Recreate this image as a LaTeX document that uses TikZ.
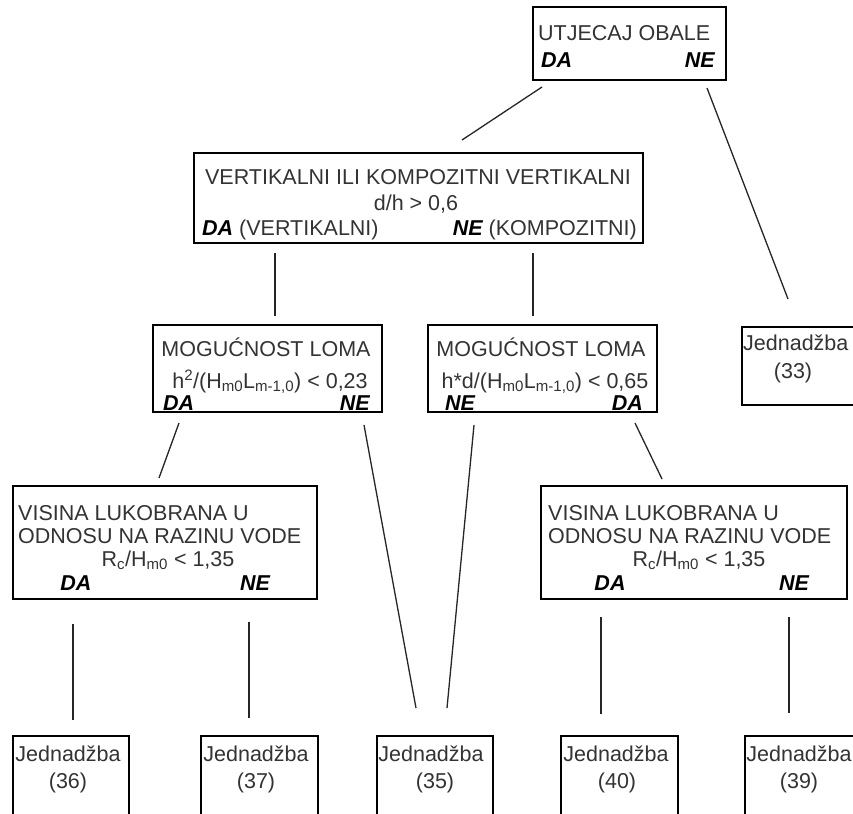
\documentclass[tikz,border=0pt]{standalone}
\usepackage{fontspec}
\setmainfont{Liberation Sans}
\newcommand\fsz{\fontsize{21.5}{25}\selectfont}
\tikzset{
 box/.style={draw=black, line width=1.5pt, inner sep=0pt, fill=none},
 txt/.style={font=\fsz, text=black!80, inner sep=0pt, anchor=base},
 lbl/.style={font=\fsz\bfseries\itshape, text=black, inner sep=0pt, anchor=base},
 conn/.style={line width=1.3pt, draw=black!85},
}
\newcommand\bi[1]{{\bfseries\itshape\color{black}#1}}
\begin{document}
\begin{tikzpicture}[x=1pt,y=-1pt]
\clip (0,0) rectangle (853,813);
\fill[white] (0,0) rectangle (853,813);
% boxes
\node[box, minimum width=193pt, minimum height=73pt] (top) at (629.5,43.5) {};
\node[box, minimum width=449pt, minimum height=90pt] (vert) at (418.5,198) {};
\node[box, minimum width=229pt, minimum height=87pt] (mogL) at (267.5,368.5) {};
\node[box, minimum width=229pt, minimum height=87pt] (mogR) at (542.5,368.5) {};
\node[box, minimum width=120pt, minimum height=78pt] (eq33) at (802,366) {};
\node[box, minimum width=304pt, minimum height=113pt] (visL) at (165,542.5) {};
\node[box, minimum width=306pt, minimum height=113pt] (visR) at (694,542.5) {};
\node[box, minimum width=116pt, minimum height=90pt] (eq36) at (71,781) {};
\node[box, minimum width=117pt, minimum height=90pt] (eq37) at (259.5,781) {};
\node[box, minimum width=116pt, minimum height=90pt] (eq35) at (435,781) {};
\node[box, minimum width=117pt, minimum height=90pt] (eq40) at (619.5,781) {};
\node[box, minimum width=117pt, minimum height=90pt] (eq39) at (803.5,781) {};
% texts
\node[txt, anchor=base west] (t1) at (538,41) {UTJECAJ OBALE};
\node[lbl, anchor=base west] (t1a) at (541,68) {DA};
\node[lbl, anchor=base east] (t1b) at (715,68) {NE};
\node[txt] (t2) at (418,185) {VERTIKALNI ILI KOMPOZITNI VERTIKALNI};
\node[txt] (t2b) at (416,210) {d/h > 0,6};
\node[txt, anchor=base west] (t2c) at (202,235) {\bi{DA} (VERTIKALNI)};
\node[txt, anchor=base east] (t2d) at (637,235) {\bi{NE} (KOMPOZITNI)};
\node[txt] (t3) at (266,356) {MOGUĆNOST LOMA};
\node[txt] (t3b) at (270,388) {h\textsuperscript{2}/(H\textsubscript{m0}L\textsubscript{m-1,0}) < 0,23};
\node[lbl, anchor=base west] (t3c) at (163,410) {DA};
\node[lbl, anchor=base east] (t3d) at (370,410) {NE};
\node[txt] (t4) at (541,356) {MOGUĆNOST LOMA};
\node[txt] (t4b) at (545,388) {h*d/(H\textsubscript{m0}L\textsubscript{m-1,0}) < 0,65};
\node[lbl, anchor=base west] (t4c) at (445,410) {NE};
\node[lbl, anchor=base east] (t4d) at (643,410) {DA};
\node[txt, anchor=base west] (t5) at (743,350) {Jednadžba};
\node[txt] (t5b) at (793,378) {(33)};
\node[txt, anchor=base west] (t6) at (18,520) {VISINA LUKOBRANA U};
\node[txt, anchor=base west] (t6b) at (18,543) {ODNOSU NA RAZINU VODE};
\node[txt] (t6c) at (168,566) {R\textsubscript{c}/H\textsubscript{m0} < 1,35};
\node[lbl] (t6d) at (76,590) {DA};
\node[lbl] (t6e) at (255,590) {NE};
\node[txt, anchor=base west] (t7) at (548,520) {VISINA LUKOBRANA U};
\node[txt, anchor=base west] (t7b) at (548,543) {ODNOSU NA RAZINU VODE};
\node[txt] (t7c) at (699,566) {R\textsubscript{c}/H\textsubscript{m0} < 1,35};
\node[lbl] (t7d) at (610,590) {DA};
\node[lbl] (t7e) at (794,590) {NE};
\node[txt] (e36a) at (68,761) {Jednadžba};
\node[txt] (e36b) at (68,788) {(36)};
\node[txt] (e37a) at (256,761) {Jednadžba};
\node[txt] (e37b) at (256,788) {(37)};
\node[txt] (e35a) at (431,761) {Jednadžba};
\node[txt] (e35b) at (435,788) {(35)};
\node[txt] (e40a) at (616,761) {Jednadžba};
\node[txt] (e40b) at (617,788) {(40)};
\node[txt] (e39a) at (799,761) {Jednadžba};
\node[txt] (e39b) at (799,788) {(39)};
% connector end points
\coordinate (c1a) at (542,87);  \coordinate (c1b) at (462,140);
\coordinate (c2a) at (707,88);  \coordinate (c2b) at (788,299);
\coordinate (c3a) at (275,253); \coordinate (c3b) at (275,316);
\coordinate (c4a) at (533,253); \coordinate (c4b) at (533,316);
\coordinate (c5a) at (179,423); \coordinate (c5b) at (159,478);
\coordinate (c6a) at (364,425); \coordinate (c6b) at (416,708);
\coordinate (c7a) at (474,425); \coordinate (c7b) at (447,708);
\coordinate (c8a) at (635,423); \coordinate (c8b) at (662,479);
\coordinate (c9a) at (73,624);  \coordinate (c9b) at (73,720);
\coordinate (c10a) at (249,622); \coordinate (c10b) at (249,718);
\coordinate (c11a) at (601,617); \coordinate (c11b) at (601,714);
\coordinate (c12a) at (789,617); \coordinate (c12b) at (789,713);
\foreach \i in {1,...,12} \draw[conn] (c\i a) -- (c\i b);
\end{tikzpicture}
\end{document}
